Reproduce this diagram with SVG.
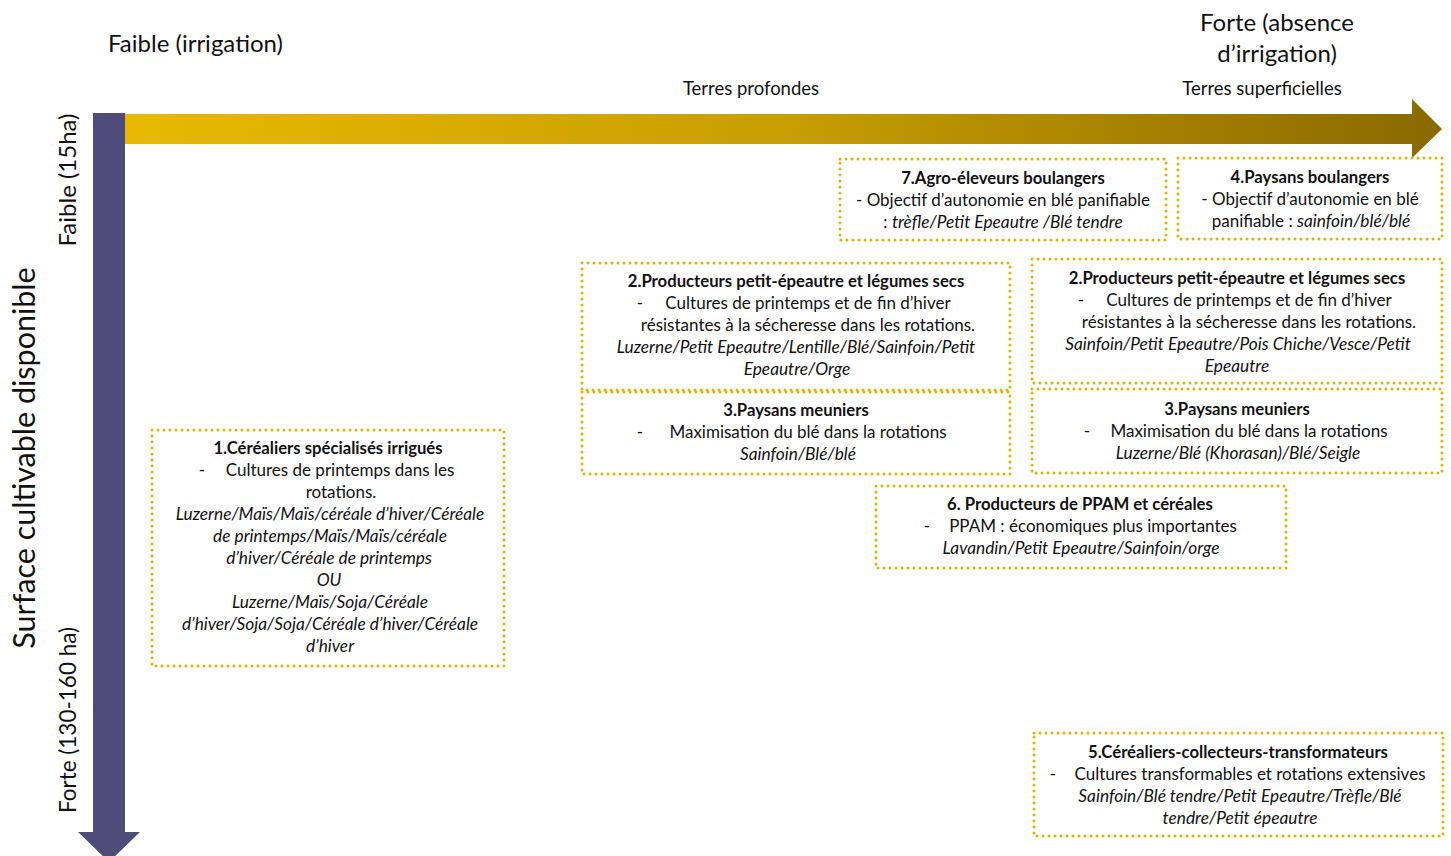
<svg xmlns="http://www.w3.org/2000/svg" width="1451" height="856" viewBox="0 0 1451 856">
<style>
text{font-family:Lato,"Open Sans","Liberation Sans",sans-serif;fill:#111;}
.b{font-size:17px;text-anchor:middle;}
.t{font-weight:bold;font-size:16.7px;}
.i{font-style:italic;font-size:17.3px;}
.d{font-size:17px;text-anchor:middle;}
.box{fill:none;stroke:#E1B200;stroke-width:3;stroke-dasharray:0 6;stroke-linecap:round;}
.ax{font-size:24px;}
.sm{font-size:18.5px;text-anchor:middle;}
</style>
<defs>
<linearGradient id="g" x1="125" y1="0" x2="1442" y2="0" gradientUnits="userSpaceOnUse">
<stop offset="0" stop-color="#E8B900"/>
<stop offset="0.5" stop-color="#C89E00"/>
<stop offset="1" stop-color="#8A6900"/>
</linearGradient>
</defs>
<g id="connectors">
<path d="M125 114 H1412 V99 L1442 129 L1412 158 V144 H125 Z" fill="url(#g)"/>
<path d="M93 113 H125 V832 H140 L109 862 L78 832 H93 Z" fill="#4F4C7C"/>
</g>
<g id="axis-labels">
<text class="ax" x="108" y="52">Faible (irrigation)</text>
<text class="ax" x="1277" y="31" text-anchor="middle">Forte (absence</text>
<text class="ax" x="1277" y="62" text-anchor="middle">d’irrigation)</text>
<text class="sm" x="751" y="95">Terres profondes</text>
<text class="sm" x="1262" y="95">Terres superficielles</text>
<text class="ax" transform="translate(76,180) rotate(-90)" text-anchor="middle">Faible (15ha)</text>
<text transform="translate(76,720) rotate(-90)" text-anchor="middle" style="font-size:22.5px">Forte (130-160 ha)</text>
<text transform="translate(35,458) rotate(-90)" text-anchor="middle" font-size="30.5">Surface cultivable disponible</text>
</g>
<g id="n7">
<rect class="box" x="840" y="159" width="326" height="81"/>
<text class="b t" x="1003" y="184">7.Agro-éleveurs boulangers</text>
<text class="b" x="1003" y="206">- Objectif d’autonomie en blé panifiable</text>
<text class="b" x="1003" y="228">: <tspan class="i">trèfle/Petit Epeautre /Blé tendre</tspan></text>
</g>
<g id="n4">
<rect class="box" x="1178" y="158" width="264" height="81"/>
<text class="b t" x="1310" y="183">4.Paysans boulangers</text>
<text class="b" x="1310" y="205">- Objectif d’autonomie en blé</text>
<text class="b" x="1311" y="227">panifiable : <tspan class="i">sainfoin/blé/blé</tspan></text>
</g>
<g id="n2a">
<rect class="box" x="582" y="263" width="428" height="127"/>
<text class="b t" x="796" y="287">2.Producteurs petit-épeautre et légumes secs</text>
<text class="d" x="640" y="309">-</text>
<text class="b" x="808" y="309">Cultures de printemps et de fin d’hiver</text>
<text class="b" x="808" y="331">résistantes à la sécheresse dans les rotations.</text>
<text class="b i" x="796" y="353">Luzerne/Petit Epeautre/Lentille/Blé/Sainfoin/Petit</text>
<text class="b i" x="797" y="375">Epeautre/Orge</text>
</g>
<g id="n3a">
<rect class="box" x="582" y="392" width="428" height="82"/>
<text class="b t" x="796" y="416">3.Paysans meuniers</text>
<text class="d" x="640" y="438">-</text>
<text class="b" x="808" y="438">Maximisation du blé dans la rotations</text>
<text class="b i" x="798" y="460">Sainfoin/Blé/blé</text>
</g>
<g id="n2b">
<rect class="box" x="1032" y="259" width="410" height="124"/>
<text class="b t" x="1237" y="284">2.Producteurs petit-épeautre et légumes secs</text>
<text class="d" x="1081" y="306">-</text>
<text class="b" x="1249" y="306">Cultures de printemps et de fin d’hiver</text>
<text class="b" x="1249" y="328">résistantes à la sécheresse dans les rotations.</text>
<text class="b i" x="1238" y="350">Sainfoin/Petit Epeautre/Pois Chiche/Vesce/Petit</text>
<text class="b i" x="1237" y="372">Epeautre</text>
</g>
<g id="n3b">
<rect class="box" x="1032" y="389" width="410" height="84"/>
<text class="b t" x="1237" y="415">3.Paysans meuniers</text>
<text class="d" x="1087" y="437">-</text>
<text class="b" x="1249" y="437">Maximisation du blé dans la rotations</text>
<text class="b i" x="1238" y="459">Luzerne/Blé (Khorasan)/Blé/Seigle</text>
</g>
<g id="n1">
<rect class="box" x="152" y="430" width="352" height="236"/>
<text class="b t" x="328" y="454">1.Céréaliers spécialisés irrigués</text>
<text class="d" x="202" y="476">-</text>
<text class="b" x="340" y="476">Cultures de printemps dans les</text>
<text class="b" x="341" y="498">rotations.</text>
<text class="b i" x="330" y="520">Luzerne/Maïs/Maïs/céréale d’hiver/Céréale</text>
<text class="b i" x="330" y="542">de printemps/Maïs/Maïs/céréale</text>
<text class="b i" x="329" y="564">d’hiver/Céréale de printemps</text>
<text class="b i" x="329" y="586">OU</text>
<text class="b i" x="330" y="608">Luzerne/Maïs/Soja/Céréale</text>
<text class="b i" x="330" y="630">d’hiver/Soja/Soja/Céréale d’hiver/Céréale</text>
<text class="b i" x="330" y="652">d’hiver</text>
</g>
<g id="n6">
<rect class="box" x="876" y="486" width="410" height="82"/>
<text class="b t" x="1080" y="510">6. Producteurs de PPAM et céréales</text>
<text class="d" x="927" y="532">-</text>
<text class="b" x="1093" y="532">PPAM : économiques plus importantes</text>
<text class="b i" x="1081" y="554">Lavandin/Petit Epeautre/Sainfoin/orge</text>
</g>
<g id="n5">
<rect class="box" x="1034" y="733" width="409" height="103"/>
<text class="b t" x="1238" y="758">5.Céréaliers-collecteurs-transformateurs</text>
<text class="d" x="1053" y="780">-</text>
<text class="b" x="1250" y="780">Cultures transformables et rotations extensives</text>
<text class="b i" x="1240" y="802">Sainfoin/Blé tendre/Petit Epeautre/Trèfle/Blé</text>
<text class="b i" x="1240" y="824">tendre/Petit épeautre</text>
</g>
</svg>
